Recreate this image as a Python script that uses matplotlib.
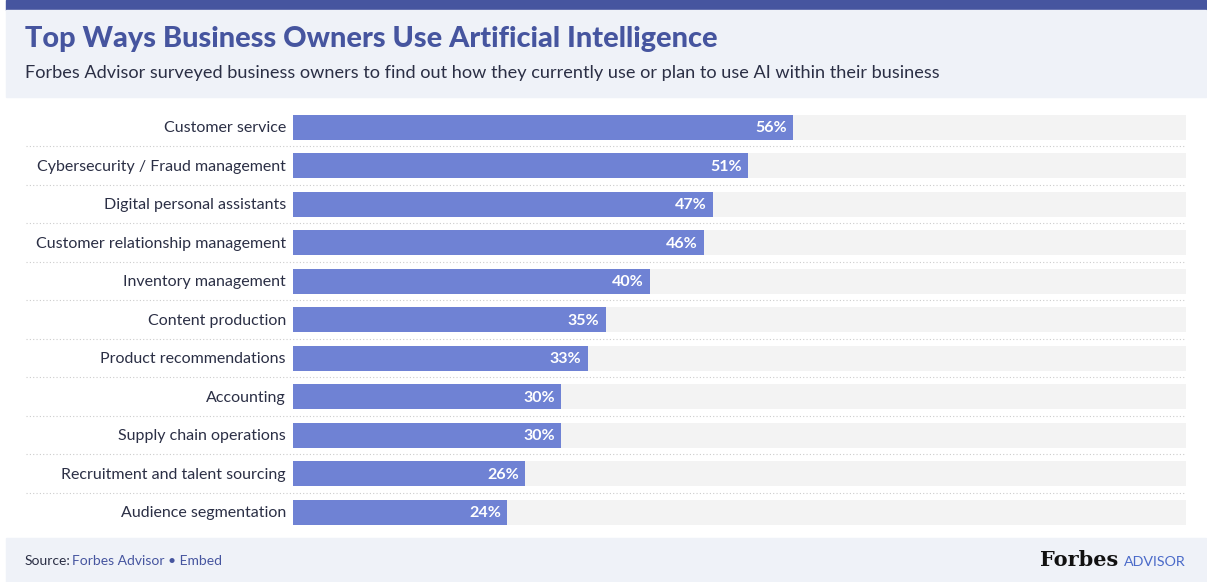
import matplotlib
matplotlib.use("Agg")
import matplotlib.pyplot as plt
from matplotlib.patches import Rectangle

categories = ["Customer service", "Cybersecurity / Fraud management", "Digital personal assistants",
              "Customer relationship management", "Inventory management", "Content production",
              "Product recommendations", "Accounting", "Supply chain operations",
              "Recruitment and talent sourcing", "Audience segmentation"]
values = [56, 51, 47, 46, 40, 35, 33, 30, 30, 26, 24]
title = "Top Ways Business Owners Use Artificial Intelligence"
subtitle = "Forbes Advisor surveyed business owners to find out how they currently use or plan to use AI within their business"

W, H = 1207, 582
fig = plt.figure(figsize=(W/100, H/100), dpi=100)
bg = fig.add_axes([0, 0, 1, 1])
bg.set_xlim(0, W); bg.set_ylim(H, 0); bg.axis("off")
bg.add_patch(Rectangle((6, 0), 1200, 10, color="#46559f"))
bg.add_patch(Rectangle((6, 10), 1200, 87, color="#eff2f8"))
bg.add_patch(Rectangle((6, 538), 1200, 44, color="#eff2f8"))
bg.text(25, 39, title, fontsize=20.8, fontweight="heavy", color="#46559f", va="center", family="Lato")
bg.text(25, 73, subtitle, fontsize=13.1, color="#2b2f45", va="center", family="Lato")
bg.text(25, 561, "Source:", fontsize=10, color="#2b2f45", va="center", family="Lato")
bg.text(72, 561, "Forbes Advisor • Embed", fontsize=10, color="#46559f", va="center", family="Lato")
bg.text(1118, 560, "Forbes", fontsize=15, fontweight="bold", color="#111111", va="center", ha="right", family="DejaVu Serif")
bg.text(1186, 562, "ADVISOR", fontsize=10.3, color="#4a6ac9", va="center", ha="right", family="Lato")

n = len(categories)
step = 38.5
top = 127 - step/2
for i in range(1, n):
    y = top + i*step
    bg.plot([26, 1186], [y, y], color="#cccccc", lw=0.8, ls=(0, (1, 2)))

ax = fig.add_axes([293/W, 1 - (top + n*step)/H, (1186-293)/W, n*step/H])
ax.set_xlim(0, 100); ax.set_ylim(n - 0.5, -0.5)
ax.axis("off")
ypos = list(range(n))
ax.barh(ypos, [100]*n, height=25/step, color="#f3f3f3")
ax.barh(ypos, values, height=25/step, color="#6f82d4")
for y, v, c in zip(ypos, values, categories):
    ax.text(v - 0.7, y + 0.03, f"{v}%", ha="right", va="center", color="white", fontsize=11.5, fontweight="bold", family="Lato")
    ax.text(-0.8, y + 0.03, c, ha="right", va="center", color="#2b2f45", fontsize=11.5, family="Lato")
fig.savefig("out.png", dpi=100)
